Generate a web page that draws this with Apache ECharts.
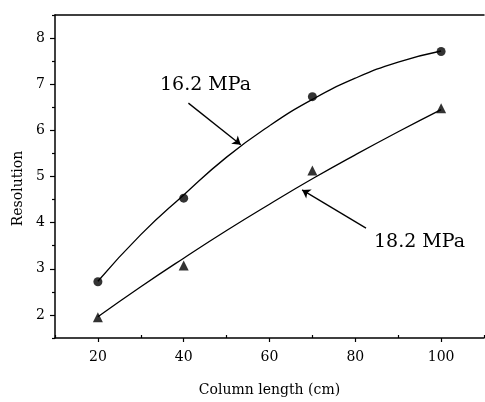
<!DOCTYPE html>
<html>
<head>
<meta charset="utf-8">
<script src="https://cdn.jsdelivr.net/npm/echarts@6/dist/echarts.min.js"></script>
<style>
  html, body { margin: 0; padding: 0; background: #fff; }
  #main { width: 485px; height: 402px; }
</style>
</head>
<body>
<div id="main"></div>
<script>
// measured points
var len16 = [20, 40, 70, 100];
var res16 = [2.72, 4.53, 6.73, 7.71];
var len18 = [20, 40, 70, 100];
var res18 = [1.95, 3.07, 5.13, 6.48];

// fitted curves, every 10 cm
var fitLen = [20, 30, 40, 50, 60, 70, 80, 90, 100];
var fit16 = [2.73, 3.74, 4.60, 5.42, 6.10, 6.67, 7.13, 7.48, 7.72];
var fit18 = [1.96, 2.61, 3.23, 3.83, 4.40, 4.95, 5.47, 5.97, 6.45];

// tick labels
var xMajor = [20, 40, 60, 80, 100];
var xMinor = [10, 30, 50, 70, 90, 110];
var yMajor = [2, 3, 4, 5, 6, 7, 8];
var yMinor = [1.5, 2.5, 3.5, 4.5, 5.5, 6.5, 7.5, 8.5];

// arrow ends for the two labels (data units)
var arrow16 = [[41.1, 6.59], [53.3, 5.69]];
var arrow18 = [[82.5, 3.88], [67.6, 4.71]];

var FONT = 'DejaVu Serif';

function pairs(xs, ys) {
  var out = [];
  for (var i = 0; i < xs.length; i++) out.push([xs[i], ys[i]]);
  return out;
}

var chart = echarts.init(document.getElementById('main'));

var option = {
  backgroundColor: '#fff',
  animation: false,
  grid: { left: 55, top: 15, right: 1, bottom: 58 },
  xAxis: [{
    type: 'value',
    min: 10,
    max: 110,
    interval: 10,
    name: 'Column length (cm)',
    nameLocation: 'middle',
    nameGap: 45,
    nameTextStyle: { fontFamily: FONT, fontSize: 14, color: '#000' },
    axisLine: { lineStyle: { color: '#000', width: 1.5 } },
    axisTick: { inside: false, length: 4, customValues: xMajor, lineStyle: { color: '#000', width: 1.2 } },
    axisLabel: { fontFamily: FONT, fontSize: 14, color: '#000', margin: 12, customValues: xMajor },
    splitLine: { show: false }
  }, {
    // minor ticks, pointing inward
    type: 'value',
    position: 'bottom',
    min: 10,
    max: 110,
    interval: 10,
    axisLine: { show: false },
    axisTick: { inside: true, length: 3, customValues: xMinor, lineStyle: { color: '#000', width: 1.2 } },
    axisLabel: { show: false },
    splitLine: { show: false }
  }, {
    // top frame line
    type: 'value',
    position: 'top',
    min: 10,
    max: 110,
    axisLine: { show: true, lineStyle: { color: '#000', width: 1.5 } },
    axisTick: { show: false },
    axisLabel: { show: false },
    splitLine: { show: false }
  }],
  yAxis: [{
    type: 'value',
    min: 1.5,
    max: 8.5,
    interval: 0.5,
    name: 'Resolution',
    nameLocation: 'middle',
    nameGap: 28,
    nameTextStyle: { fontFamily: FONT, fontSize: 14, color: '#000', padding: [0, 24, 0, 0] },
    axisLine: { show: true, lineStyle: { color: '#000', width: 1.5 } },
    axisTick: { inside: false, length: 5, customValues: yMajor, lineStyle: { color: '#000', width: 1.2 } },
    axisLabel: { fontFamily: FONT, fontSize: 14, color: '#000', margin: 10, customValues: yMajor },
    splitLine: { show: false }
  }, {
    type: 'value',
    position: 'left',
    min: 1.5,
    max: 8.5,
    interval: 0.5,
    axisLine: { show: false },
    axisTick: { inside: false, length: 3, customValues: yMinor, lineStyle: { color: '#000', width: 1.2 } },
    axisLabel: { show: false },
    splitLine: { show: false }
  }],
  graphic: [
    { type: 'text', left: 160, top: 76,
      style: { text: '16.2 MPa', fontFamily: FONT, fontSize: 19, fill: '#000' } },
    { type: 'text', left: 374, top: 233,
      style: { text: '18.2 MPa', fontFamily: FONT, fontSize: 19, fill: '#000' } }
  ],
  series: [
    {
      name: 'fit 16.2', type: 'line', smooth: true, symbol: 'none',
      data: pairs(fitLen, fit16),
      lineStyle: { color: '#000', width: 1.3 },
      markLine: {
        silent: true,
        symbol: ['none', 'arrow'],
        symbolSize: 8,
        label: { show: false },
        lineStyle: { color: '#000', width: 1.3, type: 'solid' },
        data: [[{ coord: arrow16[0] }, { coord: arrow16[1] }]]
      }
    },
    {
      name: 'fit 18.2', type: 'line', smooth: true, symbol: 'none',
      data: pairs(fitLen, fit18),
      lineStyle: { color: '#000', width: 1.3 },
      markLine: {
        silent: true,
        symbol: ['none', 'arrow'],
        symbolSize: 8,
        label: { show: false },
        lineStyle: { color: '#000', width: 1.3, type: 'solid' },
        data: [[{ coord: arrow18[0] }, { coord: arrow18[1] }]]
      }
    },
    {
      name: '16.2 MPa', type: 'scatter', symbol: 'circle', symbolSize: 9,
      data: pairs(len16, res16),
      itemStyle: { color: '#000' }
    },
    {
      name: '18.2 MPa', type: 'scatter', symbol: 'triangle', symbolSize: 10,
      data: pairs(len18, res18),
      itemStyle: { color: '#000' }
    }
  ]
};

chart.setOption(option);
</script>
</body>
</html>
